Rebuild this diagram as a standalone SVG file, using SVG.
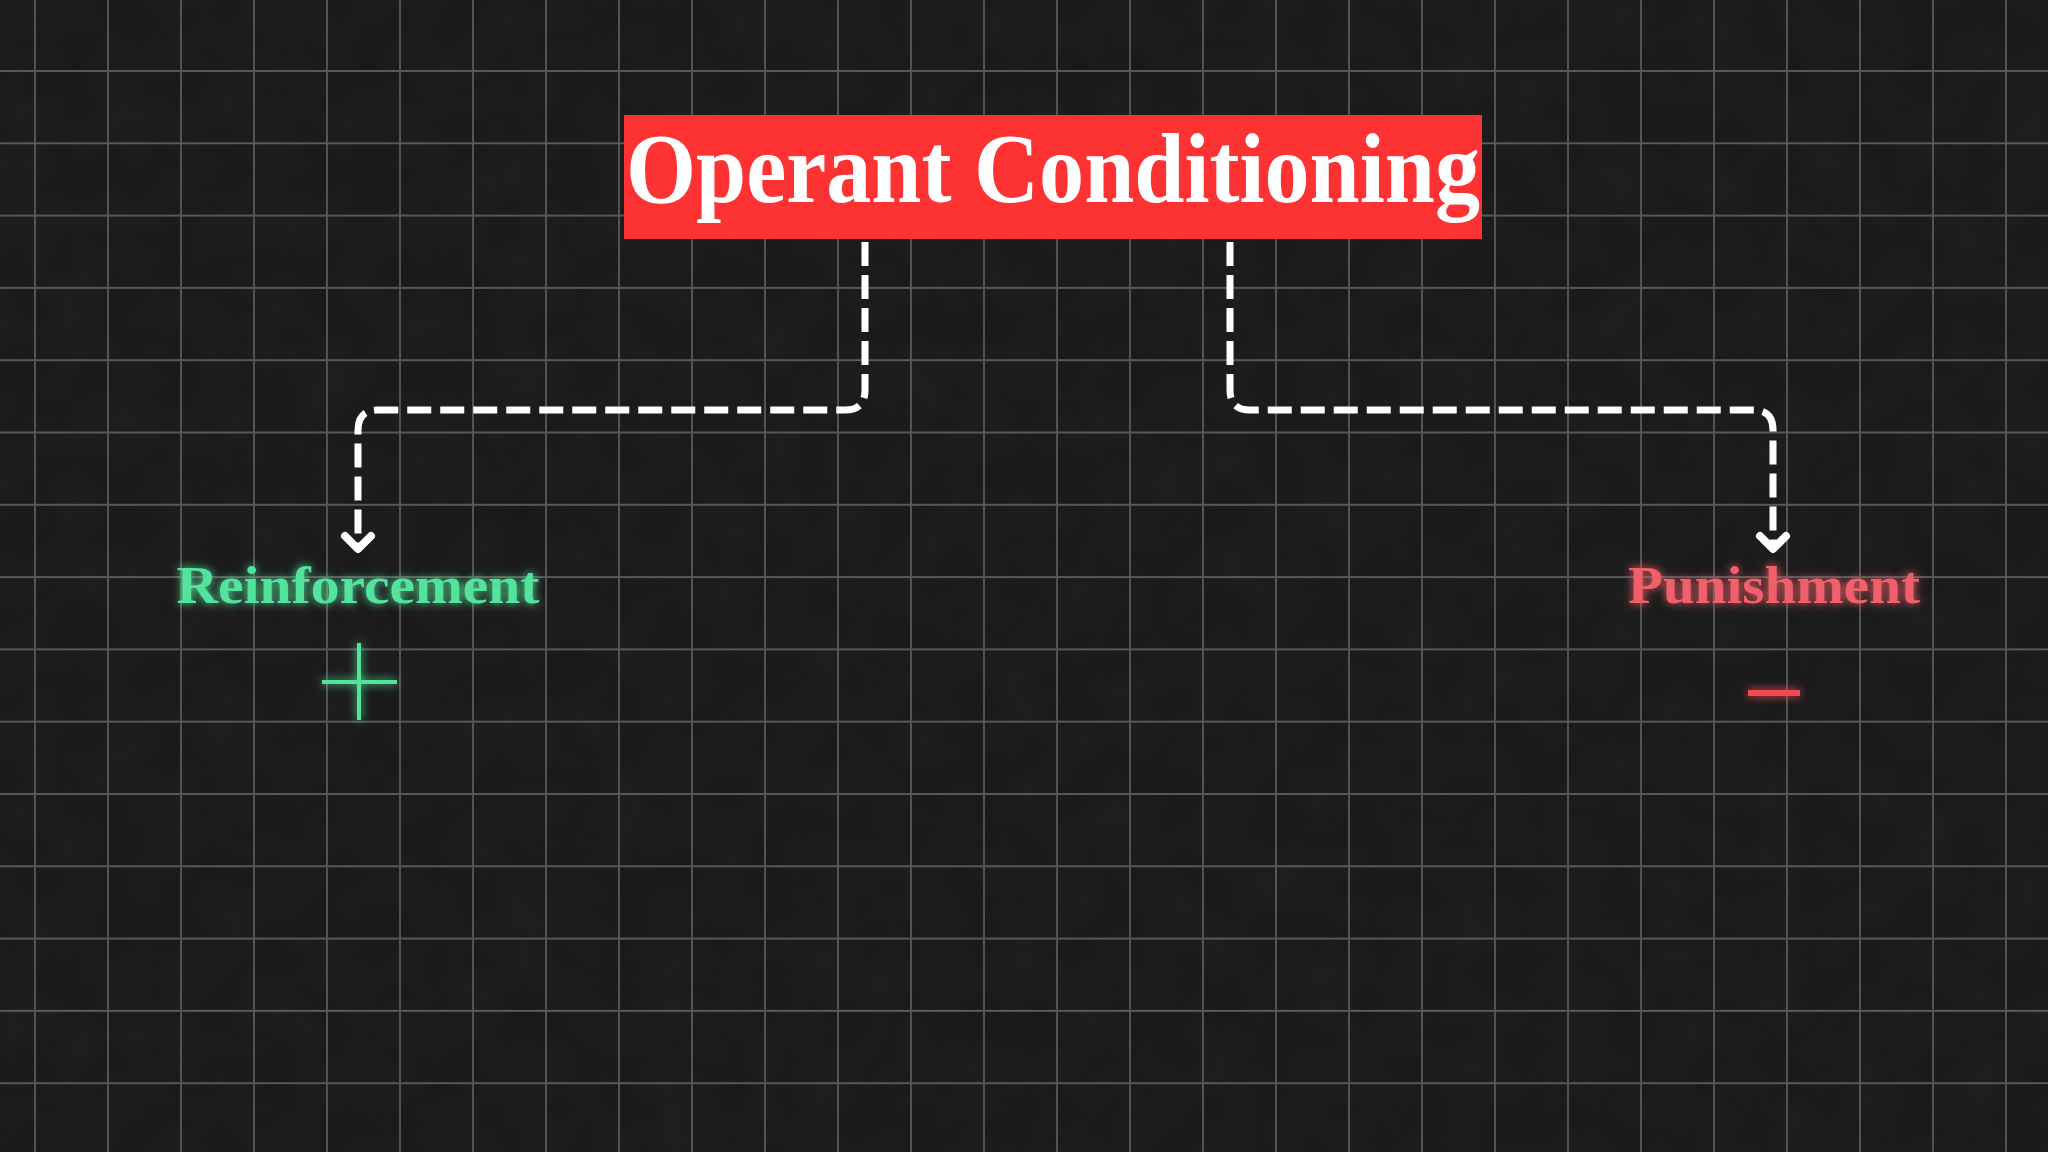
<svg xmlns="http://www.w3.org/2000/svg" width="2048" height="1152" viewBox="0 0 2048 1152">
  <defs>
    <pattern id="grid" patternUnits="userSpaceOnUse" x="34" y="70" width="73" height="72.3">
      <path d="M1,0 V72.3 M0,1 H73" stroke="#585858" stroke-width="1.8" fill="none"/>
    </pattern>
    <filter id="noise" x="0" y="0" width="100%" height="100%">
      <feTurbulence type="fractalNoise" baseFrequency="0.02" numOctaves="3" seed="5" result="n"/>
      <feColorMatrix in="n" type="matrix" values="0 0 0 0 0  0 0 0 0 0  0 0 0 0 0  0 0 0 0.25 -0.05"/>
    </filter>
    <filter id="glowG" x="-20%" y="-50%" width="140%" height="200%">
      <feGaussianBlur in="SourceGraphic" stdDeviation="5" result="b"/>
      <feMerge><feMergeNode in="b"/><feMergeNode in="SourceGraphic"/></feMerge>
    </filter>
    <marker id="chev" markerUnits="userSpaceOnUse" markerWidth="40" markerHeight="40" viewBox="-20 -20 40 40" refX="0" refY="0" orient="auto">
      <path d="M-13,-13 L0,0 L-13,13" fill="none" stroke="#ffffff" stroke-width="8" stroke-linecap="round" stroke-linejoin="round" stroke-dasharray="none"/>
    </marker>
    <style>
      .conn { fill: none; stroke: #ffffff; stroke-width: 7; stroke-dasharray: 24 9; marker-end: url(#chev); }
      .label { font-family: "Liberation Serif", "DejaVu Serif", serif; font-weight: bold; text-anchor: middle; }
    </style>
  </defs>

  <rect width="2048" height="1152" fill="#1e1e1e"/>
  <rect width="2048" height="1152" filter="url(#noise)"/>
  <rect width="2048" height="1152" fill="url(#grid)"/>

  <g id="connectors">
    <path class="conn" d="M865,242 V390 Q865,410 845,410 H378 Q358,410 358,430 V549"/>
    <path class="conn" d="M1230,242 V390 Q1230,410 1250,410 H1753 Q1773,410 1773,430 V549"/>
  </g>

  <g id="title">
    <rect x="624" y="115" width="858" height="124" fill="#fd3232"/>
    <text class="label" x="1053" y="202" font-size="100" fill="#ffffff" textLength="854" lengthAdjust="spacingAndGlyphs">Operant Conditioning</text>
  </g>

  <g id="reinforcement" filter="url(#glowG)">
    <text class="label" x="358" y="603" font-size="52" fill="#52e39c" textLength="363" lengthAdjust="spacingAndGlyphs">Reinforcement</text>
    <path d="M322,682 H397 M359,643 V720" stroke="#52e39c" stroke-width="4" fill="none"/>
  </g>

  <g id="punishment" filter="url(#glowG)">
    <text class="label" x="1774" y="603" font-size="52" fill="#f0606a" textLength="292" lengthAdjust="spacingAndGlyphs">Punishment</text>
    <path d="M1748,693 H1800" stroke="#f24a55" stroke-width="6" fill="none"/>
  </g>
</svg>
